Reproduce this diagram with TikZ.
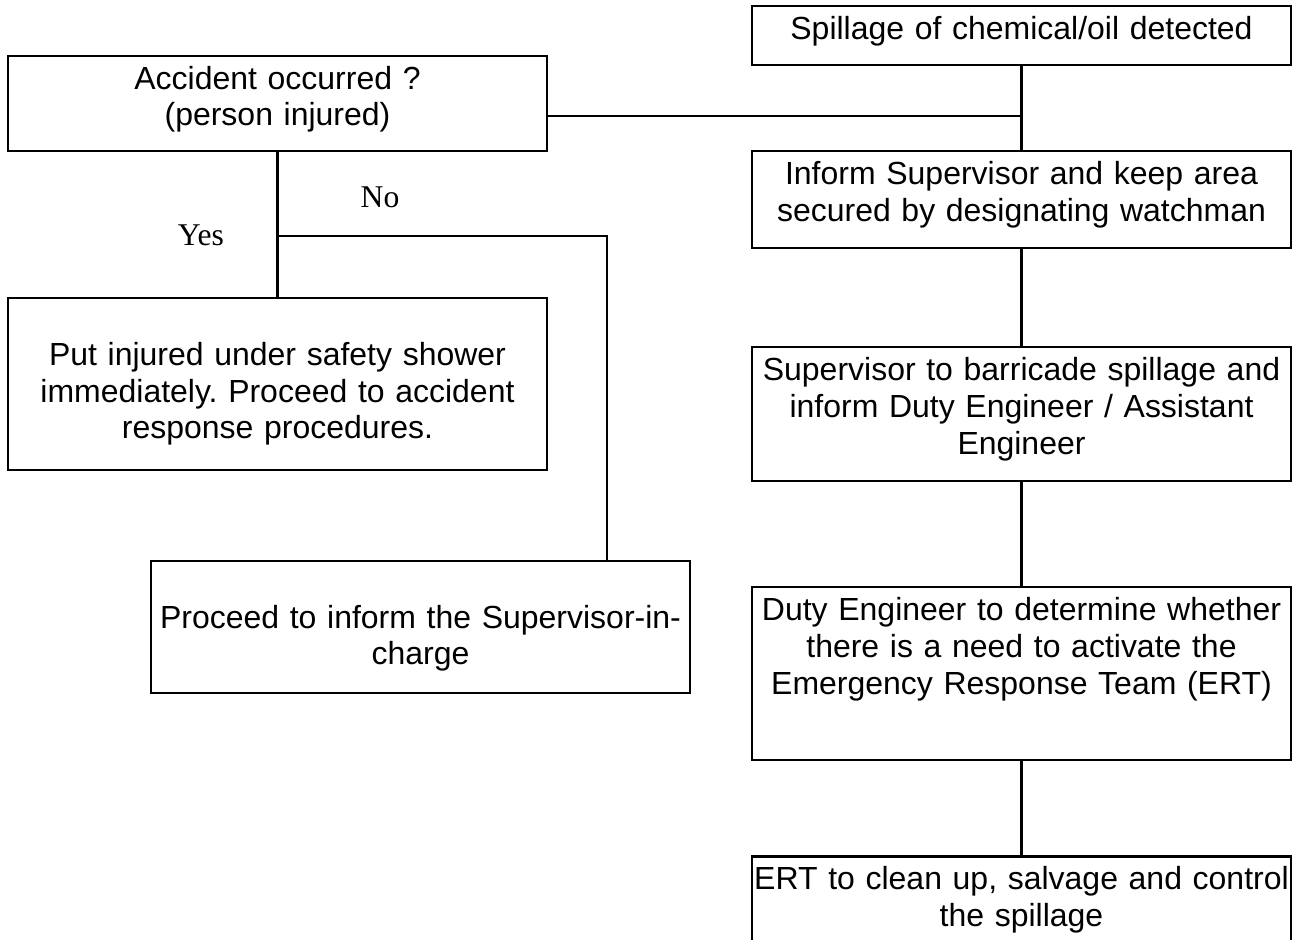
\documentclass[tikz,border=0pt]{standalone}
\usepackage{fontspec}
\setmainfont{Liberation Sans}
\newfontfamily\answerfont{Liberation Serif}
\usepackage{tikz}
\usetikzlibrary{
    positioning,
    calc
}
\frenchspacing
\tikzset{
    % Text box, text set from the top edge
    flowbox/.style={
        rectangle,
        draw=black,
        line width=1.2pt,
        fill=white,
        font=\fontsize{18.2pt}{21pt}\selectfont,
        text width=10.78cm,
        align=center,
        inner xsep=0pt,
        inner ysep=0pt,
        text height=0.66cm,
        text depth=#1
    },
    flowbox/.default=0.5cm,
    % Same box, with an empty first line
    gapbox/.style={
        flowbox=#1,
        text height=1.34cm
    },
    % Yes / No labels
    answer/.style={
        font=\answerfont\fontsize{18pt}{21pt}\selectfont,
        inner sep=0pt
    },
    % Connector
    flowline/.style={
        draw=black,
        line width=1.2pt
    }
}

\begin{document}
\begin{tikzpicture}
    \useasboundingbox (0,0) rectangle (25.9,-18.78);

    % Spillage column
    \node[flowbox=0.52cm, anchor=north] (spill) at (20.43,-0.10) {Spillage of chemical/oil detected};
    \node[flowbox=1.28cm, below=1.68cm of spill] (inform) {Inform Supervisor and keep area\\secured by designating watchman};
    \node[flowbox=2.02cm, below=1.94cm of inform] (barricade) {Supervisor to barricade spillage and\\inform Duty Engineer / Assistant\\Engineer};
    \node[flowbox=2.8cm, below=2.08cm of barricade] (duty) {Duty Engineer to determine whether\\there is a need to activate the\\Emergency Response Team (ERT)};
    \node[flowbox=1.74cm, below=1.88cm of duty] (ert) {ERT to clean up, salvage and control\\the spillage};

    % Accident column
    \node[flowbox=1.24cm, anchor=north] (accident) at (5.55,-1.10) {Accident occurred ?\\(person injured)};
    \node[gapbox=2.1cm, below=2.9cm of accident] (injured) {Put injured under safety shower\\immediately. Proceed to accident\\response procedures.};
    \node[gapbox=1.3cm, anchor=north] (supervisor) at (8.41,-11.20) {Proceed to inform the Supervisor-in-\\charge};

    % Connectors
    \coordinate (join) at (spill.south |- 0,-2.32);
    \coordinate (fork) at (accident.south |- 0,-4.72);
    \draw[flowline] (spill) -- (inform);
    \draw[flowline] (accident.east |- join) -- (join);
    \draw[flowline] (inform) -- (barricade);
    \draw[flowline] (barricade) -- (duty);
    \draw[flowline] (duty) -- (ert);
    \draw[flowline] (accident) -- (injured);
    \draw[flowline] (fork) -| ([xshift=3.73cm]supervisor.north);

    % Answers
    \node[answer] (no) at (7.6,-3.94) {No};
    \node[answer] (yes) at (4.02,-4.70) {Yes};

\end{tikzpicture}
\end{document}
